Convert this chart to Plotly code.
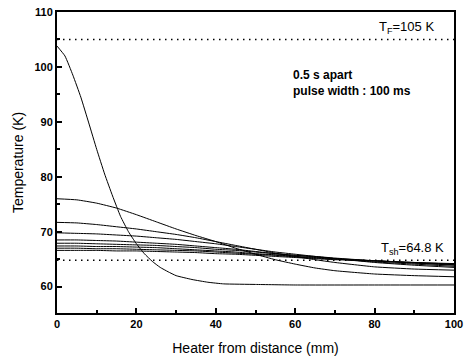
import plotly.graph_objects as go

# Temperature profiles along the heater, successive snapshots 0.5 s apart
x_first = [0, 2, 4, 6, 8, 10, 12, 14, 16, 18, 20, 22, 24, 26, 28, 30, 34, 38, 42, 50, 60, 80, 100]
t_first = [103.8, 102.0, 98.5, 94.5, 89.8, 85.0, 80.5, 76.5, 72.8, 70.0, 67.8, 66.0, 64.6, 63.5, 62.7, 62.0, 61.3, 60.8, 60.5, 60.4, 60.3, 60.3, 60.3]

x_prof = [0, 5, 10, 15, 20, 25, 30, 35, 40, 45, 50, 55, 60, 65, 70, 80, 90, 100]
profiles = [
    [76.0, 75.8, 75.2, 74.3, 73.1, 71.8, 70.5, 69.3, 68.2, 67.0, 65.9, 64.9, 64.1, 63.4, 62.9, 62.3, 62.0, 61.8],
    [71.7, 71.6, 71.3, 70.9, 70.5, 70.0, 69.5, 68.9, 68.2, 67.5, 66.8, 66.1, 65.5, 64.9, 64.4, 63.6, 63.2, 63.0],
    [69.8, 69.7, 69.6, 69.4, 69.2, 68.9, 68.6, 68.2, 67.8, 67.3, 66.8, 66.3, 65.9, 65.5, 65.1, 64.4, 63.9, 63.5],
    [68.5, 68.5, 68.4, 68.3, 68.1, 67.9, 67.7, 67.4, 67.1, 66.8, 66.4, 66.0, 65.7, 65.4, 65.1, 64.5, 64.1, 63.7],
    [67.9, 67.9, 67.8, 67.7, 67.6, 67.5, 67.3, 67.1, 66.8, 66.6, 66.3, 66.0, 65.7, 65.5, 65.2, 64.7, 64.3, 63.9],
    [67.4, 67.4, 67.3, 67.3, 67.2, 67.1, 66.9, 66.7, 66.5, 66.3, 66.0, 65.8, 65.5, 65.3, 65.1, 64.7, 64.3, 64.0],
    [67.0, 67.0, 66.9, 66.9, 66.8, 66.7, 66.6, 66.5, 66.3, 66.1, 65.9, 65.7, 65.4, 65.2, 65.0, 64.7, 64.4, 64.1],
    [66.6, 66.6, 66.6, 66.5, 66.5, 66.4, 66.3, 66.2, 66.0, 65.9, 65.7, 65.5, 65.3, 65.1, 64.9, 64.7, 64.4, 64.2],
]

t_f = 105.0
t_sh = 64.8

x_ticks = [0, 20, 40, 60, 80, 100]
y_ticks = [60, 70, 80, 90, 100, 110]

fig = go.Figure()

line_style = dict(color="black", width=1, shape="spline", smoothing=0.4)
fig.add_trace(go.Scatter(x=x_first, y=t_first, mode="lines", line=line_style))
for prof in profiles:
    fig.add_trace(go.Scatter(x=x_prof, y=prof, mode="lines", line=line_style))

# reference levels
for level in (t_f, t_sh):
    fig.add_trace(go.Scatter(x=[0, 100], y=[level, level], mode="lines",
                             line=dict(color="black", width=1.4, dash="1.5px,4.5px")))

font_main = "Liberation Sans, Arial, sans-serif"

fig.add_annotation(x=95.5, y=t_f, xref="x", yref="y", text="T<sub>F</sub>=105 K",
                   showarrow=False, xanchor="right", yanchor="bottom", yshift=1,
                   font=dict(family=font_main, size=13, color="black"))
fig.add_annotation(x=98, y=t_sh, xref="x", yref="y", text="T<sub>sh</sub>=64.8 K",
                   showarrow=False, xanchor="right", yanchor="bottom", yshift=1,
                   font=dict(family=font_main, size=13, color="black"))
fig.add_annotation(x=59, y=97, xref="x", yref="y",
                   text="<b>0.5 s apart</b><br><b>pulse width : 100 ms</b>",
                   showarrow=False, xanchor="left", yanchor="middle", align="left",
                   font=dict(family=font_main, size=12, color="black"))

axis_common = dict(
    showline=True, linecolor="black", linewidth=2, mirror=True,
    ticks="inside", ticklen=5, tickwidth=1.5, tickcolor="black",
    showgrid=False, zeroline=False, automargin=False,
    tickfont=dict(family=font_main, size=11, color="black"),
)

fig.update_xaxes(range=[0, 100], tickvals=x_ticks,
                 ticktext=[f"<b>{v}</b>" for v in x_ticks],
                 minor=dict(ticks="inside", ticklen=3, tickcolor="black", dtick=10, tick0=0),
                 title=dict(text="Heater from distance (mm)", standoff=14,
                            font=dict(family=font_main, size=14, color="black")),
                 **axis_common)
fig.update_yaxes(range=[55.2, 110], tickvals=y_ticks,
                 ticktext=[f"<b>{v}</b>" for v in y_ticks],
                 minor=dict(ticks="inside", ticklen=3, tickcolor="black", dtick=5, tick0=0),
                 title=dict(text="Temperature (K)", standoff=8,
                            font=dict(family=font_main, size=14, color="black")),
                 **axis_common)

fig.update_layout(
    width=464, height=363,
    margin=dict(l=57, r=10, t=12, b=50),
    paper_bgcolor="white", plot_bgcolor="white",
    showlegend=False,
)

fig.write_html("out.html")
